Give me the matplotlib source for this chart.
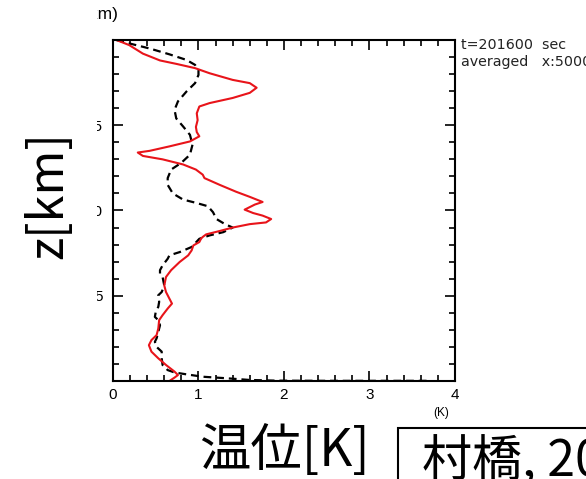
import matplotlib.pyplot as plt
import matplotlib.patches as patches
import numpy as np

plt.rcParams['font.family'] = ['Liberation Sans', 'DejaVu Sans']

# potential temperature deviation (K) vs height (km)
red_theta = [0.04, 0.19, 0.35, 0.55, 0.74, 0.96, 1.13, 1.40, 1.60, 1.68, 1.60, 1.40,
             1.13, 1.01, 0.98, 0.99, 0.97, 0.98, 1.01, 0.90, 0.66, 0.43, 0.29, 0.35,
             0.58, 0.82, 0.97, 1.05, 1.07, 1.25, 1.44, 1.60, 1.70, 1.75, 1.66, 1.54,
             1.64, 1.75, 1.85, 1.79, 1.60, 1.40, 1.25, 1.09, 1.05, 1.03, 1.01, 0.94,
             0.92, 0.88, 0.78, 0.68, 0.62, 0.60, 0.62, 0.66, 0.69, 0.64, 0.58, 0.54,
             0.53, 0.51, 0.45, 0.42, 0.45, 0.53, 0.62, 0.72, 0.76, 0.72, 0.66]
red_z = [20.0, 19.7, 19.2, 18.8, 18.6, 18.35, 18.05, 17.66, 17.47, 17.2, 16.9, 16.6,
         16.3, 16.1, 15.7, 15.3, 14.9, 14.6, 14.35, 14.05, 13.76, 13.5, 13.4, 13.2,
         13.0, 12.7, 12.4, 12.1, 11.9, 11.5, 11.1, 10.8, 10.6, 10.5, 10.35, 10.05,
         9.85, 9.7, 9.5, 9.3, 9.2, 9.0, 8.8, 8.6, 8.45, 8.35, 8.15, 7.95,
         7.66, 7.37, 6.98, 6.5, 6.1, 5.6, 5.22, 4.83, 4.54, 4.25, 3.86, 3.57,
         3.08, 2.69, 2.4, 2.1, 1.72, 1.33, 0.94, 0.55, 0.35, 0.2, 0.0]

black_theta = [0.04, 0.19, 0.43, 0.66, 0.86, 0.96, 1.0, 1.0, 0.96, 0.86, 0.76, 0.72,
               0.74, 0.82, 0.90, 0.93, 0.90, 0.80, 0.68, 0.64, 0.64, 0.70, 0.82, 0.97,
               1.11, 1.17, 1.21, 1.31, 1.40, 1.29, 1.13, 1.01, 0.92, 0.78, 0.66, 0.64,
               0.58, 0.55, 0.55, 0.58, 0.60, 0.57, 0.53, 0.54, 0.53, 0.50, 0.49, 0.53,
               0.55, 0.53, 0.51, 0.49, 0.51, 0.57, 0.57, 0.58, 0.64, 0.72, 0.86, 1.05,
               1.33, 1.60, 1.91, 2.5, 3.7]
black_z = [20.0, 19.8, 19.5, 19.16, 18.83, 18.54, 18.25, 17.95, 17.47, 16.98, 16.4, 15.9,
           15.4, 14.93, 14.44, 13.86, 13.27, 12.8, 12.4, 11.9, 11.5, 11.0, 10.64, 10.45,
           10.25, 9.9, 9.5, 9.2, 9.0, 8.73, 8.54, 8.34, 7.86, 7.56, 7.37, 7.17,
           6.78, 6.5, 6.3, 6.1, 5.6, 5.22, 5.03, 4.64, 4.35, 4.05, 3.76, 3.57,
           3.27, 2.88, 2.5, 2.3, 2.0, 1.72, 1.33, 0.94, 0.64, 0.5, 0.39, 0.25,
           0.16, 0.06, 0.02, 0.01, 0.01]

xticks = [0, 1, 2, 3, 4]
yticks = [5, 10, 15]

fig = plt.figure(figsize=(5.86, 4.79), dpi=100)
ax = fig.add_axes([0.1928, 0.2046, 0.5836, 0.7119])

ax.plot(black_theta, black_z, color='black', linestyle=(0, (3.5, 2.2)), linewidth=1.6)
ax.plot(red_theta, red_z, color='#e8141a', linewidth=1.5)

ax.set_xlim(0, 4)
ax.set_ylim(0, 20)
ax.set_xticks(xticks)
ax.set_xticks(np.arange(0, 4.01, 0.2), minor=True)
ax.set_yticks(yticks)
ax.set_yticks(np.arange(0, 20.01, 1), minor=True)
ax.set_yticklabels([str(v) for v in yticks])
ax.tick_params(which='both', direction='in', top=True, right=True, width=1.2)
ax.tick_params(which='major', length=7, labelsize=11, pad=5)
ax.tick_params(axis='y', which='major', pad=7.5)
ax.tick_params(which='minor', length=4)
for s in ax.spines.values():
    s.set_linewidth(1.5)

fig.text(0.203, 0.969, '(km)', fontsize=12.5, ha='right', va='center')
fig.text(0.739, 0.138, '(K)', fontsize=8.5, ha='left', va='center')

fig.text(0.786, 0.906, 't=201600  sec', fontsize=10.3, family='DejaVu Sans',
         ha='left', va='center', color='#222222')
fig.text(0.786, 0.870, 'averaged   x:5000', fontsize=10.3, family='DejaVu Sans',
         ha='left', va='center', color='#222222')

# label panel over the left margin
fig.add_artist(patches.Rectangle((0, 0.21), 0.1655, 0.79, transform=fig.transFigure,
                                 facecolor='white', edgecolor='none', zorder=5))
fig.text(0.082, 0.593, 'z[km]', fontsize=35, rotation=90, ha='center', va='center',
         family=['Noto Sans CJK JP', 'DejaVu Sans'], zorder=6)
fig.text(0.486, 0.057, '温位[K]', fontsize=37, ha='center', va='center',
         family=['Noto Sans CJK JP', 'DejaVu Sans'])

fig.add_artist(patches.Rectangle((0.679, -0.2), 0.5, 0.306, transform=fig.transFigure,
                                 facecolor='white', edgecolor='black', linewidth=1.5))
fig.text(0.72, -0.02, '村橋, 2015', fontsize=36, ha='left', va='bottom',
         family=['Noto Sans CJK JP', 'DejaVu Sans'])

fig.savefig('out.png', dpi=100)
